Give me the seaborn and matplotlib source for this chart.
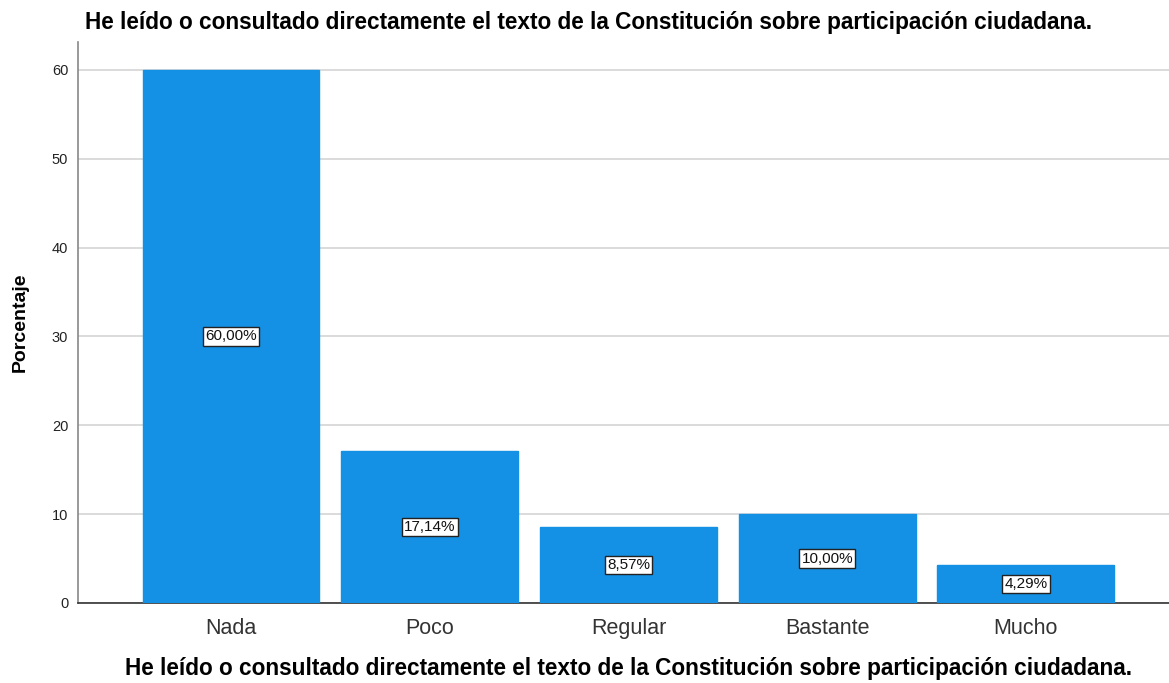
import matplotlib
matplotlib.use("Agg")
import matplotlib.pyplot as plt
import seaborn as sns
import pandas as pd

categories = ["Nada", "Poco", "Regular", "Bastante", "Mucho"]
values = [60.00, 17.14, 8.57, 10.00, 4.29]
labels = ["60,00%", "17,14%", "8,57%", "10,00%", "4,29%"]
title = "He leído o consultado directamente el texto de la Constitución sobre participación ciudadana."
yticks = [0, 10, 20, 30, 40, 50, 60]

sns.set_theme(style="white")
plt.rcParams['font.family'] = ['Liberation Sans', 'DejaVu Sans']

df = pd.DataFrame({"cat": categories, "val": values})

fig = plt.figure(figsize=(11.69, 6.83), dpi=100)
ax = fig.add_axes([78/1169, 1 - 603/683, (1169 - 78)/1169, (603 - 42)/683])

sns.barplot(data=df, x="cat", y="val", color="#1490e4", saturation=1,
            width=0.89, ax=ax, edgecolor="#1490e4", zorder=3)

ax.set_ylim(0, 63.15)
ax.set_xlim(-0.77, 4.72)
ax.set_yticks(yticks)
ax.set_yticklabels([str(t) for t in yticks], fontsize=10.5, color="#222222")
ax.tick_params(axis="x", labelsize=15.5, colors="#333333", length=0, pad=11)
ax.tick_params(axis="y", length=0, pad=7)
ax.yaxis.grid(True, color="#d4d4d4", linewidth=1.2, zorder=0)
ax.set_axisbelow(True)

for s in ["top", "right"]:
    ax.spines[s].set_visible(False)
ax.spines["left"].set_color("#888888")
ax.spines["left"].set_linewidth(1.2)
ax.spines["bottom"].set_color("#333333")
ax.spines["bottom"].set_linewidth(1.2)

for i, (v, lab) in enumerate(zip(values, labels)):
    yv = v / 2 if v > 8 else max(v / 2, 1.85)
    ax.text(i, yv, lab, ha="center", va="center", fontsize=11, color="#111111",
            bbox=dict(boxstyle="square,pad=0.15", facecolor="white",
                      edgecolor="#222222", linewidth=1), zorder=5)

ax.set_ylabel("Porcentaje", fontsize=14, fontweight="bold", color="#000000")
ax.yaxis.set_label_coords(-0.045, 0.5)
ax.set_xlabel("")
fig.text(85/1169, 1 - 22/683, title, ha="left", va="center",
         fontsize=16.3, fontweight="bold", color="#000000")
fig.text(125/1169, 1 - 668/683, title, ha="left", va="center",
         fontsize=16.3, fontweight="bold", color="#000000")

fig.savefig("out.png", dpi=100)
